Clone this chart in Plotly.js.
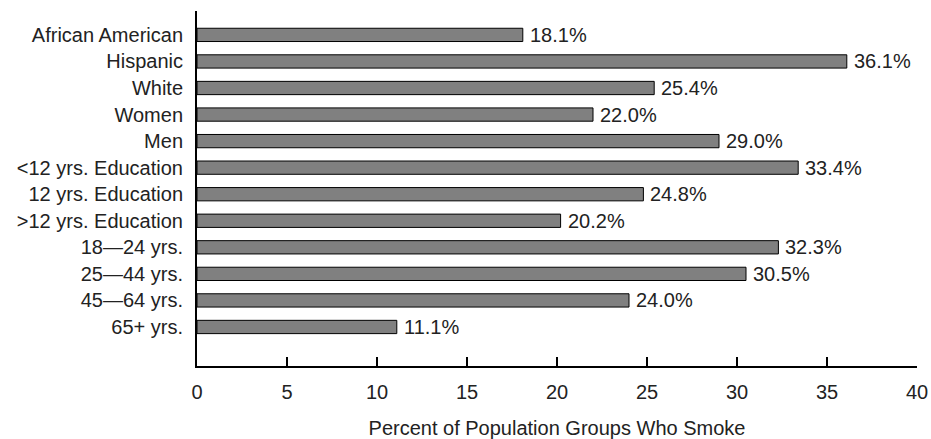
<!DOCTYPE html>
<html>
<head>
<meta charset="utf-8">
<script src="https://cdn.plot.ly/plotly-3.0.1.min.js"></script>
<style>html,body{margin:0;padding:0;background:#fff;}#chart{width:931px;height:439px;}</style>
</head>
<body>
<div id="chart"></div>
<script>
const categories = ["African American","Hispanic","White","Women","Men","<12 yrs. Education","12 yrs. Education",">12 yrs. Education","18\u201424 yrs.","25\u201444 yrs.","45\u201464 yrs.","65+ yrs."];
const values = [18.1,36.1,25.4,22.0,29.0,33.4,24.8,20.2,32.3,30.5,24.0,11.1];
const labels = values.map(v => v.toFixed(1) + "%");
const xTicks = [0,5,10,15,20,25,30,35,40];

const FONT = "Liberation Sans, Arial, sans-serif";
const FS = 20;
const TXT = "#222";

const trace = {
  type: "bar",
  orientation: "h",
  x: values,
  y: categories,
  width: 0.5,
  marker: {color: "#808080", line: {color: "#000", width: 1}},
  hoverinfo: "skip"
};

const annotations = values.map((v, i) => ({
  x: v, y: categories[i], xref: "x", yref: "y",
  text: labels[i], showarrow: false, xanchor: "left", xshift: 5,
  font: {family: FONT, size: FS, color: TXT}
}));

const layout = {
  width: 931, height: 439,
  margin: {l: 197, r: 14, t: 11, b: 73},
  paper_bgcolor: "#fff", plot_bgcolor: "#fff",
  showlegend: false,
  font: {family: FONT, size: FS, color: TXT},
  xaxis: {
    range: [0, 40], tickvals: xTicks, ticktext: xTicks.map(String),
    ticks: "inside", ticklen: 9, tickwidth: 2, tickcolor: "#000",
    showline: true, linecolor: "#000", linewidth: 2,
    showgrid: false, zeroline: false,
    ticklabelstandoff: 7,
    title: {text: "Percent of Population Groups Who Smoke", standoff: 20, font: {family: FONT, size: FS, color: TXT}}
  },
  yaxis: {
    type: "category", categoryorder: "array", categoryarray: categories,
    range: [12.47, -0.9],
    showline: true, linecolor: "#000", linewidth: 2,
    ticks: "", showgrid: false, zeroline: false,
    ticklabelstandoff: 8
  },
  annotations: annotations
};

Plotly.newPlot("chart", [trace], layout, {displayModeBar: false, staticPlot: true});
</script>
</body>
</html>
